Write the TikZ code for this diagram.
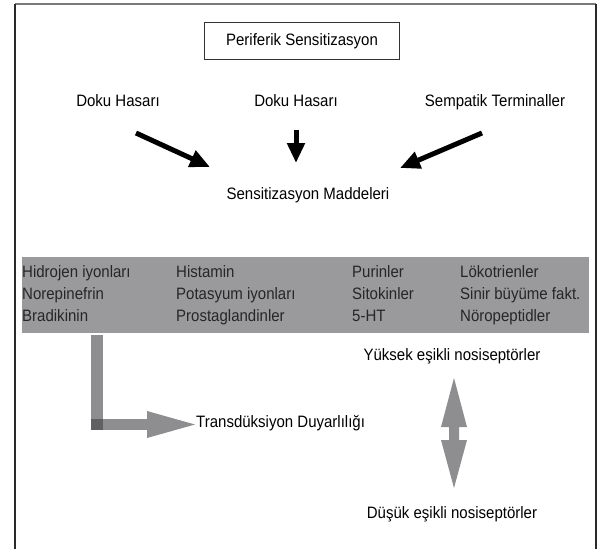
\documentclass[tikz,border=0pt]{standalone}
\usepackage{fontspec}
\setmainfont{Liberation Sans}[FakeStretch=0.91]
\usetikzlibrary{arrows.meta}

\definecolor{bandgray}{HTML}{9A9A9C}
\definecolor{arrowgray}{HTML}{8E8E90}
\definecolor{cornergray}{HTML}{606062}
\definecolor{framedark}{HTML}{2A2A2A}
\definecolor{frametop}{HTML}{7A7A7A}

\begin{document}
\begin{tikzpicture}[x=1pt,y=-1pt,
  lbl/.style={inner sep=0pt, anchor=base, font=\fontsize{16.5}{19}\selectfont},
  cell/.style={lbl, anchor=base west, text=black!85},
  titlebox/.style={draw=black!80, line width=0.8pt, minimum width=195pt, minimum height=37pt, font=\fontsize{16.5}{19}\selectfont},
  blackarrow/.style={line width=5pt, -{Triangle[length=20pt,width=17pt]}},
]
\useasboundingbox (0,0) rectangle (597,549);

% outer frame, open at the bottom
\draw[frametop, line width=1.6pt] (15,4) -- (596,4);
\draw[framedark, line width=2pt] (15,549) -- (15,4);
\draw[framedark, line width=2pt] (596,4) -- (596,549);

% title
\node[titlebox] (title) at (302,41) {Periferik Sensitizasyon};

% sources
\node[lbl] (dh1) at (118,106) {Doku Hasarı};
\node[lbl] (dh2) at (296,106) {Doku Hasarı};
\node[lbl] (symp) at (495,106) {Sempatik Terminaller};
\node[lbl] (sm) at (308,199) {Sensitizasyon Maddeleri};

\coordinate (a1s) at (136,133);
\coordinate (a1e) at (210,167);
\coordinate (a2s) at (296,130);
\coordinate (a2e) at (296,163);
\coordinate (a3s) at (482,133);
\coordinate (a3e) at (400,168);
\draw[blackarrow] (a1s) -- (a1e);
\draw[blackarrow] (a2s) -- (a2e);
\draw[blackarrow] (a3s) -- (a3e);

% band of sensitizing substances
\fill[bandgray] (22,257) rectangle (589,333);
\node[cell] (c11) at (22,277) {Hidrojen iyonları};
\node[cell] (c12) at (22,299) {Norepinefrin};
\node[cell] (c13) at (22,321) {Bradikinin};
\node[cell] (c21) at (176,277) {Histamin};
\node[cell] (c22) at (176,299) {Potasyum iyonları};
\node[cell] (c23) at (176,321) {Prostaglandinler};
\node[cell] (c31) at (352,277) {Purinler};
\node[cell] (c32) at (352,299) {Sitokinler};
\node[cell] (c33) at (352,321) {5-HT};
\node[cell] (c41) at (460,277) {Lökotrienler};
\node[cell] (c42) at (460,299) {Sinir büyüme fakt.};
\node[cell] (c43) at (460,321) {Nöropeptidler};

% transduction arrow (L shape)
\fill[arrowgray] (91,335) rectangle (103,430);
\fill[arrowgray] (103,419) rectangle (148,430);
\fill[arrowgray] (147,411) -- (195,424.5) -- (147,438) -- cycle;
\fill[cornergray] (91,419) rectangle (103,430);
\node[lbl, anchor=base west] (trans) at (196,427) {Transdüksiyon Duyarlılığı};

% threshold change
\node[lbl] (high) at (452,360) {Yüksek eşikli nosiseptörler};
\node[lbl] (low) at (452,518) {Düşük eşikli nosiseptörler};
\fill[arrowgray] (454,378) -- (467,427) -- (459,427) -- (459,440) -- (467,440)
  -- (454,488) -- (441,440) -- (449,440) -- (449,427) -- (441,427) -- cycle;
\end{tikzpicture}
\end{document}
